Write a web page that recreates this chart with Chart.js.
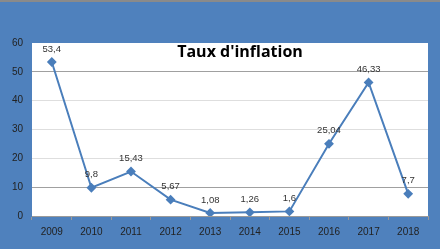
<!DOCTYPE html>
<html>
<head>
<meta charset="utf-8">
<script src="https://cdn.jsdelivr.net/npm/chart.js@4/dist/chart.umd.min.js"></script>
<style>
  html, body { margin: 0; padding: 0; background: #4f81bd; }
  #wrap { width: 440px; height: 249px; }
</style>
</head>
<body>
<div id="wrap"><canvas id="myChart" width="440" height="249"></canvas></div>
<script>
// data
var years = ['2009', '2010', '2011', '2012', '2013', '2014', '2015', '2016', '2017', '2018'];
var inflation = [53.4, 9.8, 15.43, 5.67, 1.08, 1.26, 1.6, 25.04, 46.33, 7.7];
var valueLabels = ['53,4', '9,8', '15,43', '5,67', '1,08', '1,26', '1,6', '25,04', '46,33', '7,7'];
var titleText = "Taux d'inflation";

// blue frame + white plot area + title
var frame = {
  id: 'frame',
  beforeDraw: function(chart) {
    var c = chart.ctx, a = chart.chartArea;
    c.save();
    c.fillStyle = '#4f81bd';
    c.fillRect(0, 0, chart.width, chart.height);
    c.fillStyle = '#8a8a8a';
    c.fillRect(0, 0, chart.width, 2);
    c.fillStyle = '#ffffff';
    c.fillRect(a.left, a.top, a.right - a.left, a.bottom - a.top);
    c.restore();
  },
  afterDatasetsDraw: function(chart) {
    var c = chart.ctx;
    var meta = chart.getDatasetMeta(0);
    c.save();
    c.font = '9.5px "Liberation Sans", Arial, sans-serif';
    c.fillStyle = '#333333';
    c.textAlign = 'center';
    c.textBaseline = 'middle';
    meta.data.forEach(function(pt, i) {
      c.fillText(valueLabels[i], pt.x, pt.y - 13);
    });
    c.font = 'bold 16px "Open Sans", sans-serif';
    c.fillStyle = '#000000';
    c.fillText(titleText, 240, 52);
    c.restore();
  }
};

var ctx = document.getElementById('myChart').getContext('2d');
var chart = new Chart(ctx, {
  type: 'line',
  data: {
    labels: years,
    datasets: [{
      data: inflation,
      borderColor: '#4a7ebb',
      backgroundColor: '#4a7ebb',
      borderWidth: 2,
      pointStyle: 'rectRot',
      pointRadius: 3.5,
      pointHoverRadius: 3.5,
      tension: 0
    }]
  },
  options: {
    responsive: false,
    animation: false,
    layout: { padding: { top: 43, right: 12, left: 0, bottom: 0 } },
    plugins: { legend: { display: false }, tooltip: { enabled: false }, title: { display: false } },
    scales: {
      x: {
        offset: true,
        afterFit: function(s) { s.height = 33; },
        border: { display: true, color: '#9a9a9a' },
        grid: { drawOnChartArea: false, drawTicks: true, tickLength: 4, color: '#9a9a9a', offset: true },
        ticks: { color: '#222222', padding: 6, font: { family: '"Liberation Sans", Arial, sans-serif', size: 10 }, maxRotation: 0 }
      },
      y: {
        min: 0,
        max: 60,
        afterFit: function(s) { s.width = 32; },
        border: { display: false },
        grid: {
          drawTicks: false,
          color: function(c) {
            var v = c.tick.value;
            if (v === 0 || v === 60) return 'rgba(0,0,0,0)';
            if (v === 10 || v === 50) return '#a0a0a0';
            return '#dedede';
          }
        },
        ticks: { stepSize: 10, color: '#222222', padding: 9, font: { family: '"Liberation Sans", Arial, sans-serif', size: 10 } }
      }
    }
  },
  plugins: [frame]
});
</script>
</body>
</html>
